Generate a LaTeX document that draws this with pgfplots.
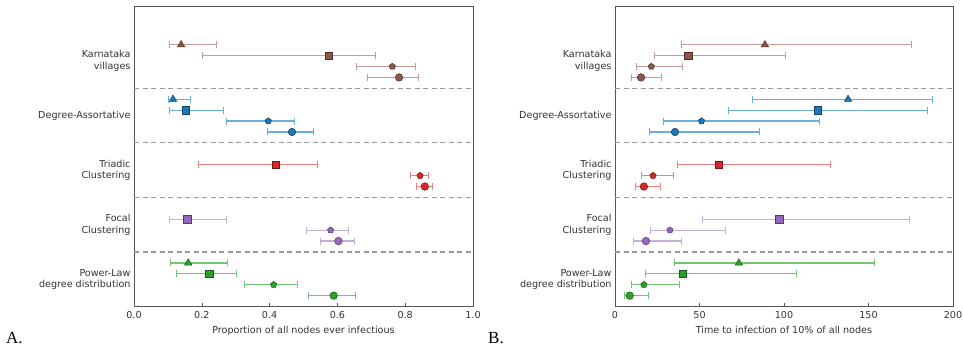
\documentclass[border=0pt]{standalone}
\usepackage{pgfplots}
\usepackage{pgfplotstable}
\pgfplotsset{compat=1.18}
\usepackage{fontspec}
\setmainfont{DejaVu Sans}
\newfontfamily\serifA{Liberation Serif}

\definecolor{brM}{HTML}{8C564B}\definecolor{brE}{HTML}{C49C94}
\definecolor{blM}{HTML}{1F77B4}\definecolor{blE}{HTML}{6BAED6}
\definecolor{rdM}{HTML}{D62728}\definecolor{rdE}{HTML}{F08080}
\definecolor{puM}{HTML}{9467BD}\definecolor{puE}{HTML}{C5B0D5}
\definecolor{grM}{HTML}{2CA02C}\definecolor{grE}{HTML}{74C476}
\definecolor{dashgray}{HTML}{9A9A9A}
\definecolor{framegray}{HTML}{555555}

% panel A: proportion ever infectious
\pgfplotstableread{
x lo hi y c
0.139 0.104 0.243 0 t
0.575 0.203 0.711 -1 s
0.762 0.657 0.831 -2 p
0.782 0.689 0.839 -3 o
}\AKar
\pgfplotstableread{
x lo hi y c
0.115 0.103 0.167 -5 t
0.153 0.104 0.265 -6 s
0.396 0.274 0.473 -7 p
0.466 0.393 0.529 -8 o
}\ADeg
\pgfplotstableread{
x lo hi y c
0.419 0.189 0.542 -11 s
0.844 0.816 0.868 -12 p
0.858 0.834 0.880 -13 o
}\ATri
\pgfplotstableread{
x lo hi y c
0.157 0.106 0.274 -16 s
0.580 0.509 0.633 -17 p
0.603 0.551 0.651 -18 o
}\AFoc
\pgfplotstableread{
x lo hi y c
0.160 0.107 0.276 -20 t
0.222 0.126 0.302 -21 s
0.412 0.327 0.483 -22 p
0.589 0.516 0.652 -23 o
}\APow

% panel B: time to infection of 10% of nodes
\pgfplotstableread{
x lo hi y c
88.7 39.2 175.4 0 t
43.3 23.6 100.9 -1 s
21.5 12.6 40.2 -2 p
15.4 9.7 27.4 -3 o
}\BKar
\pgfplotstableread{
x lo hi y c
137.9 81.4 187.8 -5 t
120.0 67.2 184.8 -6 s
51.2 28.4 121.0 -7 p
35.5 20.7 85.3 -8 o
}\BDeg
\pgfplotstableread{
x lo hi y c
61.3 36.7 127.3 -11 s
22.5 15.4 34.5 -12 p
17.1 12.2 27.2 -13 o
}\BTri
\pgfplotstableread{
x lo hi y c
97.1 52.0 174.4 -16 s
32.5 20.9 65.4 -17 p
18.3 11.2 39.4 -18 o
}\BFoc
\pgfplotstableread{
x lo hi y c
73.3 35.3 153.3 -20 t
40.2 18.1 107.6 -21 s
17.1 9.7 38.4 -22 p
8.7 5.5 19.7 -23 o
}\BPow

\pgfplotsset{
  grp/.style 2 args={only marks, scatter, scatter src=explicit symbolic,
    scatter/classes={
      t={mark=triangle*, mark size=4.2pt, fill=#1, draw=#1!55!black},
      s={mark=square*, mark size=3.7pt, fill=#1, draw=#1!55!black},
      p={mark=pentagon*, mark size=3.3pt, fill=#1, draw=#1!55!black},
      o={mark=*, mark size=3.8pt, fill=#1, draw=#1!55!black}},
    mark options={line width=0.5pt},
    error bars/.cd, x dir=both, x explicit,
      error mark=|,
      error bar style={color=#2, line width=1.2pt},
      error mark options={color=#2, mark size=3.5pt, line width=1pt}},
  dashsep/.style={dashgray, line width=1.1pt, dash pattern=on 5pt off 3.5pt, forget plot},
  panel/.style={scale only axis, width=#1, height=300pt, anchor=south west,
    axis line style={framegray, line width=0.9pt},
    ymin=-23.95, ymax=3.55,
    ytick={-1.5,-6.5,-11.5,-16.5,-21.5},
    yticklabels={{Karnataka\\villages},{Degree-Assortative},{Triadic\\Clustering},{Focal\\Clustering},{Power-Law\\degree distribution}},
    yticklabel style={align=right, font=\fontsize{9.6}{11.5}\selectfont, text=black!80},
    ytick style={draw=none},
    xtick pos=bottom, tick align=inside,
    major tick length=3pt,
    xtick style={framegray, line width=0.6pt},
    xticklabel style={font=\fontsize{9.6}{11}\selectfont, text=black!80, yshift=-1.5pt},
    xlabel style={font=\fontsize{9.6}{11}\selectfont, text=black!80, yshift=-1pt},
    /pgf/number format/assume math mode=true,
    clip=false},
}

\begin{document}
\begin{tikzpicture}[x=1pt,y=1pt]
\useasboundingbox (0,0) rectangle (964,347);

\begin{axis}[panel=339pt, at={(134pt,41pt)},
  xmin=0, xmax=1, xtick={0,0.2,0.4,0.6,0.8,1.0},
  xticklabel style={/pgf/number format/.cd, fixed, fixed zerofill, precision=1},
  xlabel={Proportion of all nodes ever infectious}]
\addplot[dashsep] coordinates {(0,-4) (1,-4)};
\addplot[dashsep] coordinates {(0,-9) (1,-9)};
\addplot[dashsep] coordinates {(0,-14) (1,-14)};
\addplot[dashsep] coordinates {(0,-19) (1,-19)};
\addplot[grp={brM}{brE}] table[x=x, y=y, meta=c, x error plus expr=\thisrow{hi}-\thisrow{x}, x error minus expr=\thisrow{x}-\thisrow{lo}] {\AKar};
\addplot[grp={blM}{blE}] table[x=x, y=y, meta=c, x error plus expr=\thisrow{hi}-\thisrow{x}, x error minus expr=\thisrow{x}-\thisrow{lo}] {\ADeg};
\addplot[grp={rdM}{rdE}] table[x=x, y=y, meta=c, x error plus expr=\thisrow{hi}-\thisrow{x}, x error minus expr=\thisrow{x}-\thisrow{lo}] {\ATri};
\addplot[grp={puM}{puE}] table[x=x, y=y, meta=c, x error plus expr=\thisrow{hi}-\thisrow{x}, x error minus expr=\thisrow{x}-\thisrow{lo}] {\AFoc};
\addplot[grp={grM}{grE}] table[x=x, y=y, meta=c, x error plus expr=\thisrow{hi}-\thisrow{x}, x error minus expr=\thisrow{x}-\thisrow{lo}] {\APow};
\end{axis}

\begin{axis}[panel=338pt, at={(615pt,41pt)},
  xmin=0, xmax=200, xtick={0,50,100,150,200},
  xlabel={Time to infection of 10\% of all nodes}]
\addplot[dashsep] coordinates {(0,-4) (200,-4)};
\addplot[dashsep] coordinates {(0,-9) (200,-9)};
\addplot[dashsep] coordinates {(0,-14) (200,-14)};
\addplot[dashsep] coordinates {(0,-19) (200,-19)};
\addplot[grp={brM}{brE}] table[x=x, y=y, meta=c, x error plus expr=\thisrow{hi}-\thisrow{x}, x error minus expr=\thisrow{x}-\thisrow{lo}] {\BKar};
\addplot[grp={blM}{blE}] table[x=x, y=y, meta=c, x error plus expr=\thisrow{hi}-\thisrow{x}, x error minus expr=\thisrow{x}-\thisrow{lo}] {\BDeg};
\addplot[grp={rdM}{rdE}] table[x=x, y=y, meta=c, x error plus expr=\thisrow{hi}-\thisrow{x}, x error minus expr=\thisrow{x}-\thisrow{lo}] {\BTri};
\addplot[grp={puM}{puE}] table[x=x, y=y, meta=c, x error plus expr=\thisrow{hi}-\thisrow{x}, x error minus expr=\thisrow{x}-\thisrow{lo}] {\BFoc};
\addplot[grp={grM}{grE}] table[x=x, y=y, meta=c, x error plus expr=\thisrow{hi}-\thisrow{x}, x error minus expr=\thisrow{x}-\thisrow{lo}] {\BPow};
\end{axis}

\node[anchor=base west, font=\serifA\fontsize{17}{18}\selectfont, inner sep=0pt] at (6,3) {A.};
\node[anchor=base west, font=\serifA\fontsize{17}{18}\selectfont, inner sep=0pt] at (488,3) {B.};
\end{tikzpicture}
\end{document}
